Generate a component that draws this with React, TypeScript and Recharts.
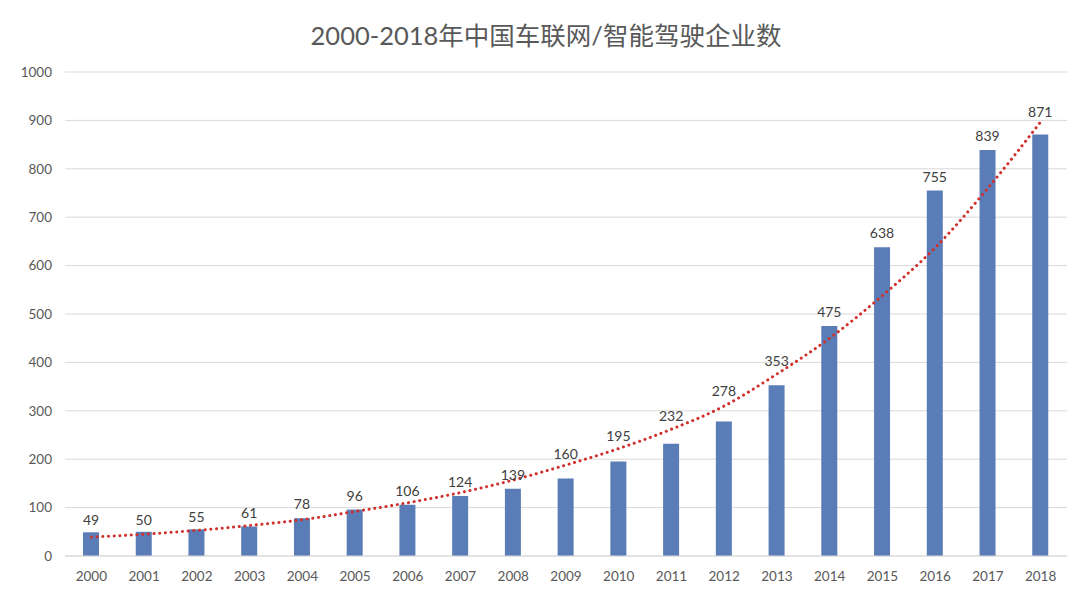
import React from "react";
import {
  ComposedChart, Bar, Line, XAxis, YAxis, CartesianGrid, LabelList,
} from "recharts";

const years = [
  "2000", "2001", "2002", "2003", "2004", "2005", "2006", "2007", "2008", "2009",
  "2010", "2011", "2012", "2013", "2014", "2015", "2016", "2017", "2018",
];
const companies = [49, 50, 55, 61, 78, 96, 106, 124, 139, 160, 195, 232, 278, 353, 475, 638, 755, 839, 871];
// exponential trendline
const trend = [39, 45, 53, 63, 75, 92, 110, 131, 157, 188, 222, 262, 310, 376, 450, 538, 637, 760, 897];
const yTicks = [0, 100, 200, 300, 400, 500, 600, 700, 800, 900, 1000];

// extra lift (px) where the label was pushed clear of the trendline
const labelLift = [-2, -2, -2, -1, 0, 0, 0, 0, 0, 11, 12, 14, 16, 10, 0, 0, 0, 0, 8];

const FONT = "Lato, 'Noto Sans CJK SC', sans-serif";

function BarLabel(props: any) {
  const { x, y, width, value, index } = props;
  const lift = labelLift[index] || 0;
  return (
    <text
      x={Number(x) + Number(width) / 2}
      y={Number(y) - 9 - lift}
      textAnchor="middle"
      fill="#404040"
      fontSize={14}
      fontFamily={FONT}
    >
      {value}
    </text>
  );
}

export default function App() {
  const data = years.map((year, i) => ({
    year,
    count: companies[i],
    trend: trend[i],
  }));

  return (
    <div style={{ position: "absolute", left: 0, top: 0, width: 1080, height: 598, background: "#fff", fontFamily: FONT }}>
      <div
        style={{
          position: "absolute",
          top: 15,
          left: 0,
          width: 1092,
          textAlign: "center",
          fontSize: 25.5,
          color: "#595959",
        }}
      >
        2000-2018年中国车联网/智能驾驶企业数
      </div>
      <ComposedChart
        width={1080}
        height={598}
        data={data}
        margin={{ top: 72, right: 13, bottom: 8, left: 0 }}
      >
        <CartesianGrid vertical={false} stroke="#d9d9d9" />
        <XAxis
          dataKey="year"
          axisLine={{ stroke: "#d9d9d9" }}
          tickLine={false}
          tickMargin={9}
          height={34}
          tick={{ fill: "#595959", fontSize: 13.5, fontFamily: FONT }}
        />
        <YAxis
          width={65}
          domain={[0, 1000]}
          ticks={yTicks}
          axisLine={false}
          tickLine={false}
          tickMargin={7}
          tick={{ fill: "#595959", fontSize: 13.5, fontFamily: FONT }}
        />
        <Bar dataKey="count" fill="#5a7db7" barSize={16} isAnimationActive={false}>
          <LabelList dataKey="count" content={BarLabel} />
        </Bar>
        <Line
          dataKey="trend"
          type="monotone"
          stroke="#d0302c"
          strokeWidth={3}
          strokeDasharray="0.1 5.6"
          strokeLinecap="round"
          dot={false}
          activeDot={false}
          isAnimationActive={false}
        />
      </ComposedChart>
    </div>
  );
}
